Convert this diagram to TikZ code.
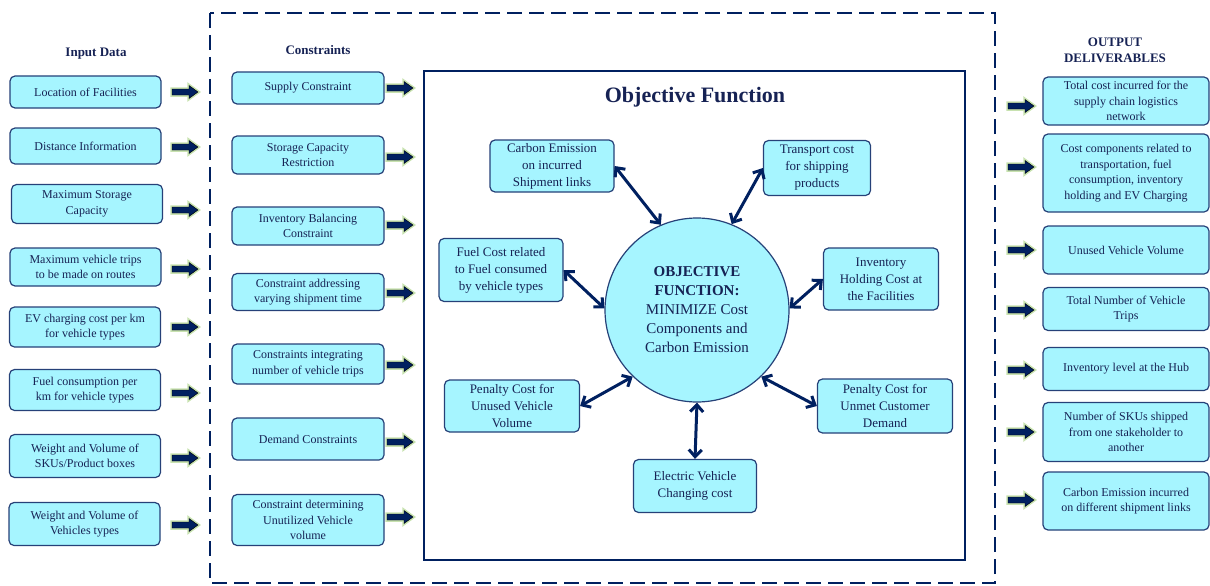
\documentclass[tikz,border=0pt]{standalone}
\usepackage{fontspec}
\setmainfont{Liberation Serif}
\usetikzlibrary{arrows.meta}

\definecolor{navy}{RGB}{0,32,96}
\definecolor{boxcyan}{RGB}{166,245,255}
\definecolor{glow}{RGB}{200,226,176}
\definecolor{ink}{RGB}{22,34,84}

\tikzset{
    databox/.style={draw=navy!85, line width=1.2pt, fill=boxcyan, rounded corners=5pt,
        align=center, text=ink, inner sep=2pt, font=\fontsize{12}{15.5}\selectfont},
    inbox/.style={databox, minimum width=151pt},
    conbox/.style={databox, minimum width=152pt},
    outbox/.style={databox, minimum width=166pt},
    costbox/.style={databox, font=\fontsize{13}{17}\selectfont},
    heading/.style={text=ink, align=center, font=\fontsize{13}{16}\selectfont\bfseries},
    biarrow/.style={{Straight Barb[length=7pt,width=13pt]}-{Straight Barb[length=7pt,width=13pt]},
        line width=3pt, draw=navy},
    blockarrow/.style={fill=navy, preaction={draw=glow, line width=3.5pt, line join=miter}}
}

\begin{document}
\begin{tikzpicture}[x=1pt, y=-1pt]
    \useasboundingbox (0,0) rectangle (1210,586);

    % frames
    \draw [navy, line width=2.5pt, dash pattern=on 15pt off 7pt] (210,13) rectangle (995,583);
    \draw [navy, line width=2.5pt] (424,71) rectangle (965,560);

    % headings
    \node [heading] (inhead) at (96,54) {Input Data};
    \node [heading] (conhead) at (318,50) {Constraints};
    \node [heading] (outhead) at (1115,50) {OUTPUT\\DELIVERABLES};
    \node [heading, font=\fontsize{22}{26}\selectfont\bfseries] (objtitle) at (695,97) {Objective Function};

    % input data
    \node [inbox, minimum height=32pt] (loc) at (85.5,92) {Location of Facilities};
    \node [inbox, minimum height=36pt] (dist) at (85.5,146) {Distance Information};
    \node [inbox, minimum height=39pt] (maxstore) at (87,204) {Maximum Storage\\Capacity};
    \node [inbox, minimum height=38pt] (maxtrips) at (85.5,267) {Maximum vehicle trips\\to be made on routes};
    \node [inbox, minimum height=40pt] (evcost) at (85,327) {EV charging cost per km\\for vehicle types};
    \node [inbox, minimum height=41pt] (fuelcons) at (85,390) {Fuel consumption per\\km for vehicle types};
    \node [inbox, minimum height=43pt] (skuwt) at (85,456) {Weight and Volume of\\SKUs/Product boxes};
    \node [inbox, minimum height=43pt] (vehwt) at (84.5,524) {Weight and Volume of\\Vehicles types};

    % constraints
    \node [conbox, minimum height=32pt] (supply) at (308,88) {Supply Constraint};
    \node [conbox, minimum height=38pt] (storage) at (308,155) {Storage Capacity\\Restriction};
    \node [conbox, minimum height=38pt] (balance) at (308,226) {Inventory Balancing\\Constraint};
    \node [conbox, minimum height=37pt] (shiptime) at (308,292) {Constraint addressing\\varying shipment time};
    \node [conbox, minimum height=40pt] (trips) at (308,364) {Constraints integrating\\number of vehicle trips};
    \node [conbox, minimum height=42pt] (demand) at (308,439) {Demand Constraints};
    \node [conbox, minimum height=51pt] (unutil) at (308,520) {Constraint determining\\Unutilized Vehicle\\volume};

    % outputs
    \node [outbox, minimum height=48pt] (totalcost) at (1126,101) {Total cost incurred for the\\supply chain logistics\\network};
    \node [outbox, minimum height=78pt] (costcomp) at (1126,173) {Cost components related to\\transportation, fuel\\consumption, inventory\\holding and EV Charging};
    \node [outbox, minimum height=48pt] (unusedvol) at (1126,250) {Unused Vehicle Volume};
    \node [outbox, minimum height=43pt] (tripsout) at (1126,309) {Total Number of Vehicle\\Trips};
    \node [outbox, minimum height=43pt] (invlevel) at (1126,369) {Inventory level at the Hub};
    \node [outbox, minimum height=59pt] (skus) at (1126,432) {Number of SKUs shipped\\from one stakeholder to\\another};
    \node [outbox, minimum height=58pt] (emission) at (1126,501) {Carbon Emission incurred\\on different shipment links};

    % block arrows
    \foreach \y in {92,147,210,269,327,393,458,525}
        \draw [blockarrow] (172,\y-3) -- (189,\y-3) -- (189,\y-6.5) -- (198,\y) -- (189,\y+6.5) -- (189,\y+3) -- (172,\y+3) -- cycle;
    \foreach \y in {88,157,225,293,365,442,517}
        \draw [blockarrow] (387,\y-3) -- (404,\y-3) -- (404,\y-6.5) -- (413,\y) -- (404,\y+6.5) -- (404,\y+3) -- (387,\y+3) -- cycle;
    \foreach \y in {106,167,250,310,370,432,500}
        \draw [blockarrow] (1008,\y-3) -- (1025,\y-3) -- (1025,\y-6.5) -- (1034,\y) -- (1025,\y+6.5) -- (1025,\y+3) -- (1008,\y+3) -- cycle;

    % objective function
    \node [circle, draw=navy!85, line width=1.2pt, fill=boxcyan, minimum size=184pt, inner sep=0pt,
        align=center, text=ink, font=\fontsize{15}{19}\selectfont] (obj) at (697,310)
        {\textbf{OBJECTIVE}\\\textbf{FUNCTION:}\\MINIMIZE Cost\\Components and\\Carbon Emission};

    \node [costbox, minimum width=124pt, minimum height=52pt] (carbon) at (552,166) {Carbon Emission\\on incurred\\Shipment links};
    \node [costbox, minimum width=107pt, minimum height=55pt] (transport) at (817,168) {Transport cost\\for shipping\\products};
    \node [costbox, minimum width=124pt, minimum height=63pt] (fuel) at (501,270) {Fuel Cost related\\to Fuel consumed\\by vehicle types};
    \node [costbox, minimum width=115pt, minimum height=62pt] (inventory) at (881,279) {Inventory\\Holding Cost at\\the Facilities};
    \node [costbox, minimum width=135pt, minimum height=52pt] (unused) at (512,406) {Penalty Cost for\\Unused Vehicle\\Volume};
    \node [costbox, minimum width=135pt, minimum height=54pt] (unmet) at (885,406) {Penalty Cost for\\Unmet Customer\\Demand};
    \node [costbox, minimum width=123pt, minimum height=53pt] (charging) at (695,486) {Electric Vehicle\\Changing cost};

    \draw [biarrow] (carbon.east) -- (obj.113);
    \draw [biarrow] (transport.west) -- (obj.68);
    \draw [biarrow] (fuel.east) -- (obj.179);
    \draw [biarrow] (inventory.west) -- (obj.1);
    \draw [biarrow] (unused.east) -- (obj.226);
    \draw [biarrow] (unmet.west) -- (obj.314);
    \draw [biarrow] (charging.north) -- (obj.south);
\end{tikzpicture}
\end{document}
